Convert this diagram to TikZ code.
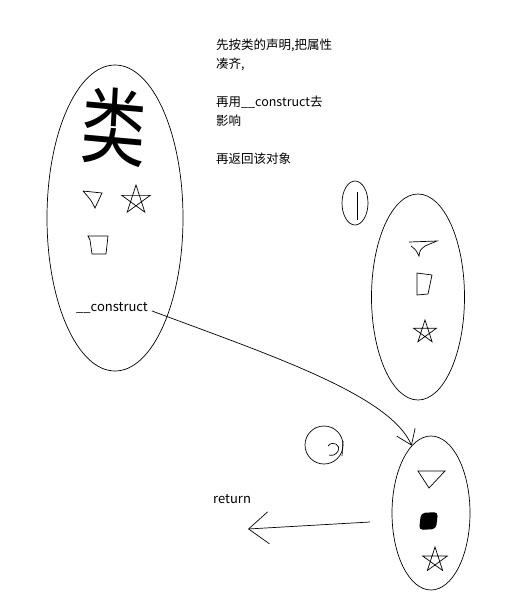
\documentclass[tikz,border=0pt]{standalone}
\usepackage{fontspec}
\newfontfamily\cjk{Noto Sans CJK SC}
\usetikzlibrary{shapes.geometric,arrows.meta,positioning}
\tikzset{
  sketch/.style={draw=black, line width=0.7pt},
  blob/.style={sketch, ellipse, inner sep=0pt},
  note/.style={font=\cjk\fontsize{12.5}{19}\selectfont, text=black},
  label/.style={font=\cjk\fontsize{13}{15}\selectfont, text=black, inner sep=1pt},
  starmark/.pic={\draw[sketch] (-90:1)--(54:1)--(198:1)--(-18:1)--(126:1)--cycle;}
}
\begin{document}
\begin{tikzpicture}[x=1pt,y=-1pt]
\useasboundingbox[fill=white] (0,0) rectangle (509,600);

% notes at the top
\node[note, anchor=north west, align=left, inner sep=0pt] (memo) at (216,39)
  {先按类的声明,把属性\\凑齐,\\ \mbox{}\\再用\_\_construct去\\影响\\ \mbox{}\\再返回该对象};

% the class
\node[blob, minimum width=136pt, minimum height=306pt] (cls) at (115,218) {};
\node[font=\cjk\fontsize{84}{84}\selectfont, xscale=0.78, rotate=-4, inner sep=0pt] (clsname) at (114,127) {类};
\draw[sketch] (83,191) -- (102,193) -- (95,208) .. controls (91,200) .. (83,191);
\pic[scale=15] at (136,200) {starmark};
\draw[sketch] (90,240) -- (88,236) -- (108,236) -- (106,254) -- (92,254) -- (90,240);
\node[label] (construct) at (112,308) {\_\_construct};

% the bare object
\node[blob, minimum width=26pt, minimum height=44pt] (step1) at (355,203) {};
\draw[sketch] (357,192) -- (357,220);
\node[blob, minimum width=93pt, minimum height=206pt] (obj) at (418,297) {};
\draw[sketch] (409,242) -- (437,241) -- (425,246) .. controls (420,250) .. (419,256)
  .. controls (416,250) .. (411,246);
\draw[sketch] (417,273) -- (432,275) -- (428,294) -- (417,295) -- cycle;
\pic[scale=12] at (425,332) {starmark};

% the finished object
\node[sketch, circle, minimum size=38pt, inner sep=0pt] (step2) at (324,445) {};
\draw[sketch] (328,446) .. controls (333,440) and (341,445) .. (338,451)
  .. controls (336,455) and (332,456) .. (329,455);
\draw[sketch] (343,441) -- (342,456);
\node[blob, minimum width=78pt, minimum height=154pt] (ret) at (431,513) {};
\draw[sketch] (418,471) -- (445,471) -- (429,488) -- cycle;
\fill[rounded corners=4pt] (421,513) -- (438,512) -- (436,529) -- (419,530) -- cycle;
\pic[scale=13] at (435,560) {starmark};

% connectors
\draw[sketch, -{Straight Barb[length=14pt,width=20pt]}]
  ([xshift=3pt,yshift=-3pt]construct.east) .. controls (270,355) and (390,395) .. (ret.106);
\coordinate (retfrom) at (370,522);
\coordinate (retto) at (248,529);
\draw[sketch, -{Straight Barb[length=20pt,width=32pt]}] (retfrom) -- (retto);
\node[label, anchor=west] (retlabel) at (212,499) {return};
\end{tikzpicture}
\end{document}
